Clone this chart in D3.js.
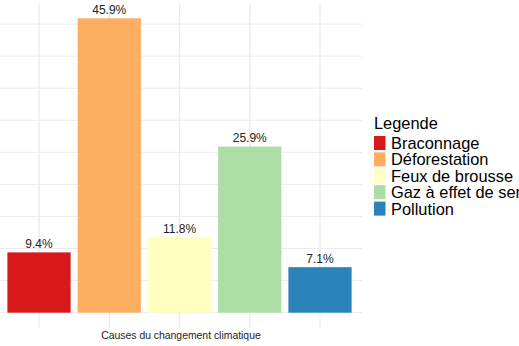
<!DOCTYPE html>
<html>
<head>
<meta charset="utf-8">
<script src="https://cdn.jsdelivr.net/npm/d3@7"></script>
<style>
  html, body { margin: 0; padding: 0; background: #fff; }
  svg { display: block; font-family: "Liberation Sans", Arial, sans-serif; }
</style>
</head>
<body>
<svg id="chart" width="519" height="346"></svg>
<script>
// Causes of climate change, share of responses (%)
const categories = ["Braconnage", "Déforestation", "Feux de brousse", "Gaz à effet de serre", "Pollution"];
const values = [9.4, 45.9, 11.8, 25.9, 7.1];
const colors = ["#d7191c", "#fdae61", "#ffffbf", "#abdda4", "#2b83ba"];
const gridTicks = [0, 5, 10, 15, 20, 25, 30, 35, 40, 45];
const legendTitle = "Legende";
const xTitle = "Causes du changement climatique";

const svg = d3.select("#chart");

// Panel extents
const panel = { left: -3.15, right: 362.15, top: 3.6, bottom: 327.4 };

const x = d3.scaleBand()
  .domain(categories)
  .range([panel.left, panel.right])
  .paddingInner(0.1)
  .paddingOuter(0.15);

const maxV = d3.max(values);
const y = d3.scaleLinear()
  .domain([-0.05 * maxV, 1.05 * maxV])
  .range([panel.bottom, panel.top]);

const color = d3.scaleOrdinal().domain(categories).range(colors);

// Grid
const grid = svg.append("g").attr("class", "grid");
grid.selectAll("line.h")
  .data(gridTicks)
  .join("line")
  .attr("class", "h")
  .attr("x1", panel.left).attr("x2", panel.right)
  .attr("y1", d => y(d)).attr("y2", d => y(d))
  .attr("stroke", "#ebebeb").attr("stroke-width", 1);

grid.selectAll("line.v")
  .data(categories)
  .join("line")
  .attr("class", "v")
  .attr("x1", d => x(d) + x.bandwidth() / 2)
  .attr("x2", d => x(d) + x.bandwidth() / 2)
  .attr("y1", panel.top).attr("y2", panel.bottom)
  .attr("stroke", "#ebebeb").attr("stroke-width", 1.3);

// Bars
svg.append("g").selectAll("rect")
  .data(categories)
  .join("rect")
  .attr("x", d => x(d))
  .attr("width", x.bandwidth())
  .attr("y", (d, i) => y(values[i]))
  .attr("height", (d, i) => y(0) - y(values[i]))
  .attr("fill", d => color(d));

// Value labels
svg.append("g").selectAll("text")
  .data(categories)
  .join("text")
  .attr("x", d => x(d) + x.bandwidth() / 2)
  .attr("y", (d, i) => y(values[i]) - 4.3)
  .attr("text-anchor", "middle")
  .attr("font-size", 12)
  .attr("fill", "#222")
  .text((d, i) => values[i].toFixed(1) + "%");

// X axis title
svg.append("text")
  .attr("x", (panel.left + panel.right) / 2 + 1.5)
  .attr("y", 339)
  .attr("text-anchor", "middle")
  .attr("font-size", 10.4)
  .attr("fill", "#222")
  .text(xTitle);

// Legend
const legend = svg.append("g").attr("transform", "translate(374,0)");
legend.append("text")
  .attr("x", 0).attr("y", 129)
  .attr("font-size", 16.4)
  .attr("fill", "#000")
  .text(legendTitle);

const rows = legend.selectAll("g.row")
  .data(categories)
  .join("g")
  .attr("class", "row")
  .attr("transform", (d, i) => `translate(0,${136 + i * 16.4})`);

rows.append("rect")
  .attr("x", 0).attr("y", 0)
  .attr("width", 11.5).attr("height", 14)
  .attr("fill", d => color(d));

rows.append("text")
  .attr("x", 17).attr("y", 13)
  .attr("font-size", 16.4)
  .attr("fill", "#000")
  .text(d => d);
</script>
</body>
</html>
